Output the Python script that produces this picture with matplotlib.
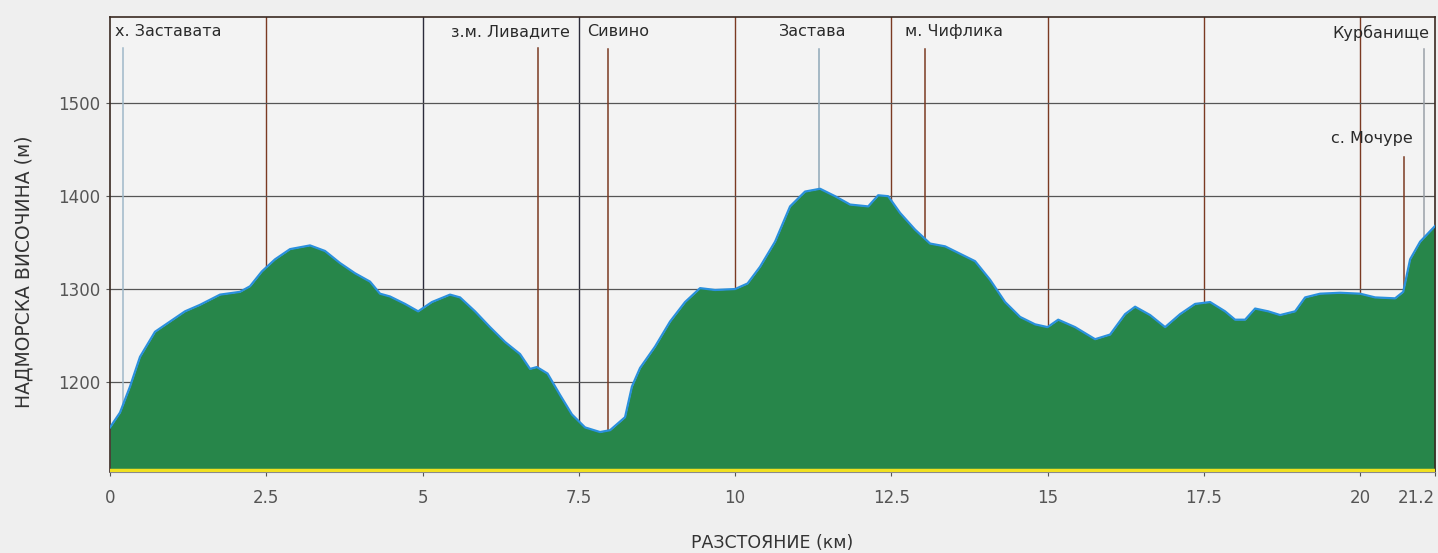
import matplotlib.pyplot as plt

# elevation profile (km, m)
km = [0.0, 0.16, 0.32, 0.48, 0.72, 0.96, 1.2, 1.44, 1.76, 2.08, 2.24, 2.43, 2.64, 2.88,
      3.2, 3.44, 3.68, 3.92, 4.16, 4.32, 4.48, 4.72, 4.93, 5.15, 5.44, 5.6, 5.84, 6.08,
      6.32, 6.56, 6.72, 6.83, 7.0, 7.2, 7.39, 7.6, 7.84, 8.0, 8.24, 8.35, 8.48, 8.72,
      8.96, 9.2, 9.44, 9.68, 10.0, 10.2, 10.4, 10.64, 10.88, 11.12, 11.36, 11.6, 11.84,
      12.13, 12.29, 12.45, 12.64, 12.88, 13.12, 13.36, 13.6, 13.84, 14.08, 14.32, 14.56,
      14.8, 15.0, 15.17, 15.44, 15.76, 16.0, 16.24, 16.4, 16.64, 16.88, 17.12, 17.36,
      17.6, 17.84, 18.0, 18.16, 18.32, 18.53, 18.72, 18.96, 19.12, 19.36, 19.68, 20.0,
      20.24, 20.56, 20.69, 20.8, 20.96, 21.2]
elev = [1151, 1167, 1195, 1227, 1254, 1265, 1276, 1283, 1294, 1297, 1303, 1319, 1332, 1343,
        1347, 1341, 1328, 1317, 1308, 1295, 1292, 1284, 1276, 1286, 1294, 1291, 1276, 1259,
        1243, 1230, 1214, 1216, 1209, 1186, 1165, 1151, 1146, 1148, 1162, 1195, 1215, 1238,
        1265, 1286, 1301, 1299, 1300, 1306, 1324, 1351, 1389, 1405, 1408, 1400, 1391,
        1389, 1401, 1400, 1382, 1364, 1349, 1346, 1338, 1330, 1310, 1286, 1270,
        1262, 1259, 1267, 1259, 1246, 1251, 1273, 1281, 1272, 1259, 1273, 1284,
        1286, 1276, 1267, 1267, 1279, 1276, 1272, 1276, 1291, 1295, 1296, 1295,
        1291, 1290, 1297, 1332, 1351, 1368]

x_ticks = [0, 2.5, 5, 7.5, 10, 12.5, 15, 17.5, 20, 21.2]
x_tick_labels = ['0', '2.5', '5', '7.5', '10', '12.5', '15', '17.5', '20', '21.2']
y_ticks = [1200, 1300, 1400, 1500]

# waypoints
place_names = ['х. Заставата', 'з.м. Ливадите', 'Сивино', 'Застава', 'м. Чифлика',
               'Курбанище', 'с. Мочуре']
place_km = [0.2, 6.85, 7.97, 11.34, 13.04, 21.03, 20.7]

plt.rcParams['font.family'] = ['DejaVu Sans']

fig = plt.figure(figsize=(14.38, 5.53), dpi=100, facecolor='#efefef')
ax = fig.add_axes([0.0765, 0.1465, 0.9215, 0.8228])
ax.set_facecolor('#f3f3f3')

ax.set_xlim(0, 21.2)
ax.set_ylim(1103, 1593)

# grid behind the profile
for x in x_ticks[1:-1]:
    col = '#2b2b3a' if x in (5, 7.5) else '#7a3a22'
    ax.axvline(x, color=col, lw=1.0, zorder=1)
for y in y_ticks:
    ax.axhline(y, color='#555555', lw=0.9, zorder=1)

# waypoint lines and labels
line_cols = ['#9fb8c8', '#7a3a22', '#7a3a22', '#8fa8b8', '#7a3a22', '#9aa0a8', '#7a3a22']
label_dx = [-0.12, 0.5, -0.33, -0.1, -0.32, 0.08, 0.14]
label_ha = ['left', 'right', 'left', 'center', 'left', 'right', 'right']
label_y = [1585, 1585, 1585, 1585, 1585, 1585, 1470]
line_top = [1560, 1560, 1558, 1558, 1558, 1558, 1442]
for name, pk, col, dx, ha, ly, lt in zip(place_names, place_km, line_cols, label_dx,
                                          label_ha, label_y, line_top):
    ax.plot([pk, pk], [1103, lt], color=col, lw=1.1, zorder=1)
    ax.text(pk + dx, ly, name, ha=ha, va='top', fontsize=11.5, color='#2a2a2a', zorder=4)

ax.fill_between(km, elev, 1103, color='#27864a', zorder=2, lw=0)
ax.plot(km, elev, color='#2a90dd', lw=1.6, zorder=3)
ax.axhline(1105, color='#f0e020', lw=2.5, zorder=3)

ax.set_xticks(x_ticks)
ax.set_xticklabels(x_tick_labels)
ax.get_xticklabels()[-1].set_horizontalalignment('right')
ax.set_yticks(y_ticks)
ax.tick_params(axis='both', labelsize=12, colors='#555555', length=3)
ax.tick_params(axis='x', pad=9)
ax.tick_params(axis='y', pad=4)

for side in ['left', 'top', 'right']:
    ax.spines[side].set_color('#3a2a22')
    ax.spines[side].set_linewidth(1.2)
ax.spines['bottom'].set_color('#8a8a8a')

ax.set_xlabel('РАЗСТОЯНИЕ (км)', fontsize=12.5, color='#333333', labelpad=20)
ax.set_ylabel('НАДМОРСКА ВИСОЧИНА (м)', fontsize=13.5, color='#333333')
ax.yaxis.set_label_coords(-0.058, 0.44)

fig.savefig('out.png', dpi=100, facecolor=fig.get_facecolor())
